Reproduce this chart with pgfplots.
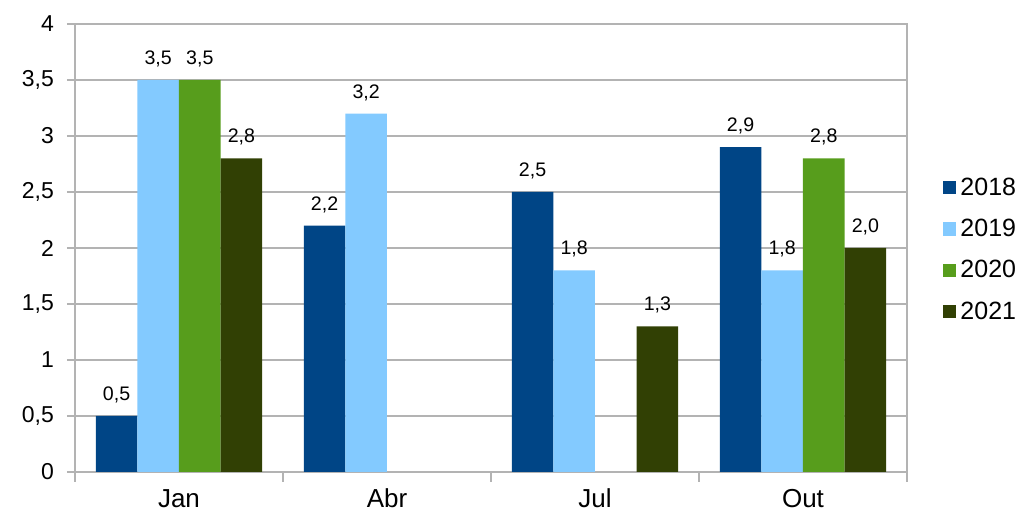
\documentclass[border=0pt]{standalone}
\usepackage{fontspec}
\setmainfont{Liberation Sans}
\usepackage{pgfplots}
\pgfplotsset{compat=1.18}

\definecolor{c2018}{HTML}{004586}
\definecolor{c2019}{HTML}{83CAFF}
\definecolor{c2020}{HTML}{579D1C}
\definecolor{c2021}{HTML}{314004}
\definecolor{gridgray}{HTML}{B3B3B3}

\begin{document}
\begin{tikzpicture}
\path[use as bounding box] (-37.5pt,-21pt) rectangle (472pt,236pt);
\begin{axis}[
  at={(0,0)}, anchor=south west,
  scale only axis,
  width=416pt, height=224pt,
  xmin=-0.5, xmax=3.5,
  ymin=0, ymax=4,
  ytick={0,0.5,...,4},
  xtick={0,1,2,3},
  xticklabels={Jan,Abr,Jul,Out},
  minor xtick={-0.5,0.5,1.5,2.5,3.5},
  major x tick style={draw=none},
  minor x tick style={draw=gridgray, line width=0.6pt},
  minor tick length=5pt,
  y tick style={draw=gridgray, line width=0.6pt},
  major tick length=4pt,
  tick align=outside,
  xtick pos=bottom, ytick pos=left,
  ymajorgrids,
  grid style={draw=gridgray, line width=0.6pt},
  axis line style={draw=gridgray, line width=0.6pt},
  yticklabel style={font=\fontsize{11.5}{13}\selectfont, xshift=-3pt},
  xticklabel style={font=\fontsize{13}{15}\selectfont, anchor=base, yshift=-14pt},
  /pgf/number format/.cd, use comma, assume math mode=true,
  /pgfplots/.cd,
  ybar, bar width=0.2,
  nodes near coords,
  nodes near coords style={font=\fontsize{9.8}{11}\selectfont, text=black,
    /pgf/number format/fixed, /pgf/number format/fixed zerofill,
    /pgf/number format/precision=1, /pgf/number format/use comma,
    /pgf/number format/assume math mode=true, yshift=3pt},
  legend style={draw=none, at={(1,0.5)}, anchor=west, xshift=15pt, yshift=-1pt,
    font=\fontsize{12.5}{14}\selectfont, row sep=6.5pt,
    /tikz/every even column/.append style={column sep=1pt}},
  legend image code/.code={\fill[#1] (0cm,-0.11cm) rectangle (0.23cm,0.12cm);},
  legend cell align=left,
]
\addplot[fill=c2018, draw=none, bar shift=-0.3] coordinates {(0,0.5) (1,2.2) (2,2.5) (3,2.9)};
\addlegendentry{2018}
\addplot[fill=c2019, draw=none, bar shift=-0.1] coordinates {(0,3.5) (1,3.2) (2,1.8) (3,1.8)};
\addlegendentry{2019}
\addplot[fill=c2020, draw=none, bar shift=0.1] coordinates {(0,3.5) (3,2.8)};
\addlegendentry{2020}
\addplot[fill=c2021, draw=none, bar shift=0.3] coordinates {(0,2.8) (2,1.3) (3,2.0)};
\addlegendentry{2021}
\end{axis}
\end{tikzpicture}
\end{document}
